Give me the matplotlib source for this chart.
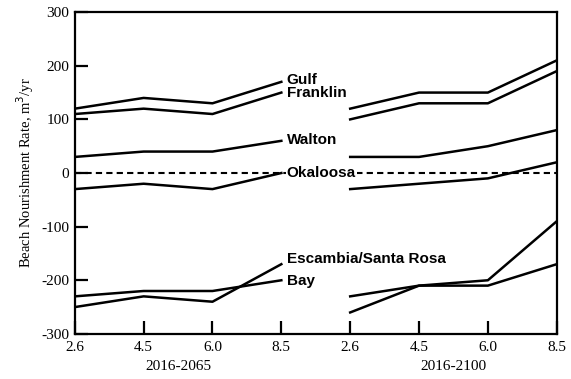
import numpy as np
import matplotlib.pyplot as plt

plt.rcParams["axes.unicode_minus"] = False

# scenario tick labels (two periods, four RCP values each)
rcp_labels = ["2.6", "4.5", "6.0", "8.5", "2.6", "4.5", "6.0", "8.5"]
periods = ["2016-2065", "2016-2100"]

# beach nourishment rate, m^3/yr  (period 1 values, period 2 values)
gulf = [120, 140, 130, 170, 120, 150, 150, 210]
franklin = [110, 120, 110, 150, 100, 130, 130, 190]
walton = [30, 40, 40, 60, 30, 30, 50, 80]
okaloosa = [-30, -20, -30, 0, -30, -20, -10, 20]
escambia = [-250, -230, -240, -170, -260, -210, -200, -90]
bay = [-230, -220, -220, -200, -230, -210, -210, -170]

series = [
    ("Gulf", gulf, 173),
    ("Franklin", franklin, 149),
    ("Walton", walton, 62),
    ("Okaloosa", okaloosa, 0),
    ("Escambia/Santa Rosa", escambia, -160),
    ("Bay", bay, -202),
]

fig = plt.figure(figsize=(5.71, 3.79), dpi=100)
ax = fig.add_axes([0.131, 0.119, 0.844, 0.849])

x = np.arange(len(rcp_labels))

# zero reference line
ax.plot([0, 7], [0, 0], color="black", lw=1.5, ls=(0, (3, 2)), zorder=1)

for name, vals, ylab in series:
    ax.plot(x[:4], vals[:4], color="black", lw=1.8, zorder=2)
    ax.plot(x[4:], vals[4:], color="black", lw=1.8, zorder=2)
    bbox = None
    if name == "Okaloosa":
        bbox = dict(facecolor="white", edgecolor="none", pad=0.5)
    ax.text(3.08, ylab, name, ha="left", va="center", fontsize=11,
            fontweight="bold", family=["Liberation Sans", "DejaVu Sans"],
            bbox=bbox, zorder=3)

ax.set_xlim(0, 7)
ax.set_ylim(-300, 300)
ax.set_xticks(x)
ax.set_xticklabels(rcp_labels)
ax.set_yticks(np.arange(-300, 301, 100))

serif = ["Liberation Serif", "DejaVu Serif"]
for lab in ax.get_xticklabels() + ax.get_yticklabels():
    lab.set_family(serif)
    lab.set_fontsize(11)

ax.tick_params(direction="in", length=9.5, width=1.6, pad=4)
ax.tick_params(axis="x", pad=5)
for sp in ax.spines.values():
    sp.set_linewidth(1.6)

ax.set_ylabel("Beach Nourishment Rate, m$^3$/yr", family=serif, fontsize=10.5,
              labelpad=4)

# period labels under the tick labels
ax.text(1.5, -0.1, periods[0], transform=ax.get_xaxis_transform(),
        ha="center", va="center", family=serif, fontsize=11)
ax.text(5.5, -0.1, periods[1], transform=ax.get_xaxis_transform(),
        ha="center", va="center", family=serif, fontsize=11)

fig.savefig("out.png", dpi=100)
